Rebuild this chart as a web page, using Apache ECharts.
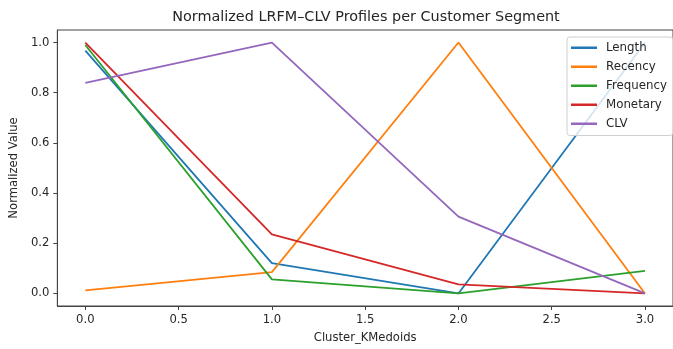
<!DOCTYPE html>
<html><head><meta charset="utf-8">
<script src="https://cdn.jsdelivr.net/npm/echarts@6/dist/echarts.min.js"></script>
<style>html,body{margin:0;padding:0;background:#fff}#c{width:673px;height:349px}</style>
</head><body><div id="c"></div>
<script>
const clusters = [0, 1, 2, 3];
const length = [0.968, 0.121, 0.0, 1.0];
const recency = [0.012, 0.085, 1.0, 0.0];
const frequency = [0.99, 0.056, 0.0, 0.09];
const monetary = [1.0, 0.235, 0.036, 0.0];
const clv = [0.839, 1.0, 0.306, 0.0];
const seriesNames = ['Length', 'Recency', 'Frequency', 'Monetary', 'CLV'];
const xTicks = [0, 0.5, 1, 1.5, 2, 2.5, 3];
const yTicks = [0, 0.2, 0.4, 0.6, 0.8, 1.0];
const colors = ['#1f77b4', '#ff7f0e', '#2ca02c', '#d62728', '#9467bd'];
const values = [length, recency, frequency, monetary, clv];

const font = 'DejaVu Sans';
const chart = echarts.init(document.getElementById('c'), null, {renderer: 'canvas'});
chart.setOption({
  animation: false,
  color: colors,
  title: {
    text: 'Normalized LRFM\u2013CLV Profiles per Customer Segment',
    left: 361, top: 5, textAlign: 'center',
    textStyle: {fontFamily: font, fontSize: 14.4, fontWeight: 'normal', color: '#262626'}
  },
  grid: {left: 56, top: 30, right: -5, bottom: 41.5, show: true, borderColor: '#444', borderWidth: 1, backgroundColor: 'transparent'},
  legend: {
    orient: 'vertical', left: 567, top: 37,
    data: seriesNames,
    icon: 'rect',
    itemWidth: 26, itemHeight: 2.5, itemGap: 5.5,
    padding: [4, 6, 5, 4],
    backgroundColor: 'rgba(255,255,255,0.8)', borderColor: '#d0d0d0', borderWidth: 1, borderRadius: 3,
    textStyle: {fontFamily: font, fontSize: 11.8, color: '#262626', padding: [0, 0, 0, 4], lineHeight: 13.5}
  },
  xAxis: {
    type: 'value', min: -0.15, max: 3.15,
    name: 'Cluster_KMedoids', nameLocation: 'middle', nameGap: 26,
    nameTextStyle: {fontFamily: font, fontSize: 11.6, color: '#262626'},
    splitLine: {show: false},
    axisLine: {show: true, onZero: false, lineStyle: {color: '#444', width: 1}},
    axisTick: {show: true, length: 4, customValues: xTicks, lineStyle: {color: '#444'}},
    axisLabel: {customValues: xTicks, margin: 8, fontFamily: font, fontSize: 11.6, color: '#262626', formatter: v => v.toFixed(1)}
  },
  yAxis: {
    type: 'value', min: -0.05, max: 1.05,
    name: 'Normalized Value', nameLocation: 'middle', nameGap: 35,
    nameTextStyle: {fontFamily: font, fontSize: 11.6, color: '#262626'},
    splitLine: {show: false},
    axisLine: {show: true, onZero: false, lineStyle: {color: '#444', width: 1}},
    axisTick: {show: true, length: 4, customValues: yTicks, lineStyle: {color: '#444'}},
    axisLabel: {customValues: yTicks, margin: 8, fontFamily: font, fontSize: 11.6, color: '#262626', formatter: v => v.toFixed(1)}
  },
  series: seriesNames.map((n, i) => ({
    name: n, type: 'line', symbol: 'none', showSymbol: false,
    lineStyle: {width: 1.8, color: colors[i]},
    itemStyle: {color: colors[i]},
    data: clusters.map((c, j) => [c, values[i][j]])
  }))
});
</script></body></html>
